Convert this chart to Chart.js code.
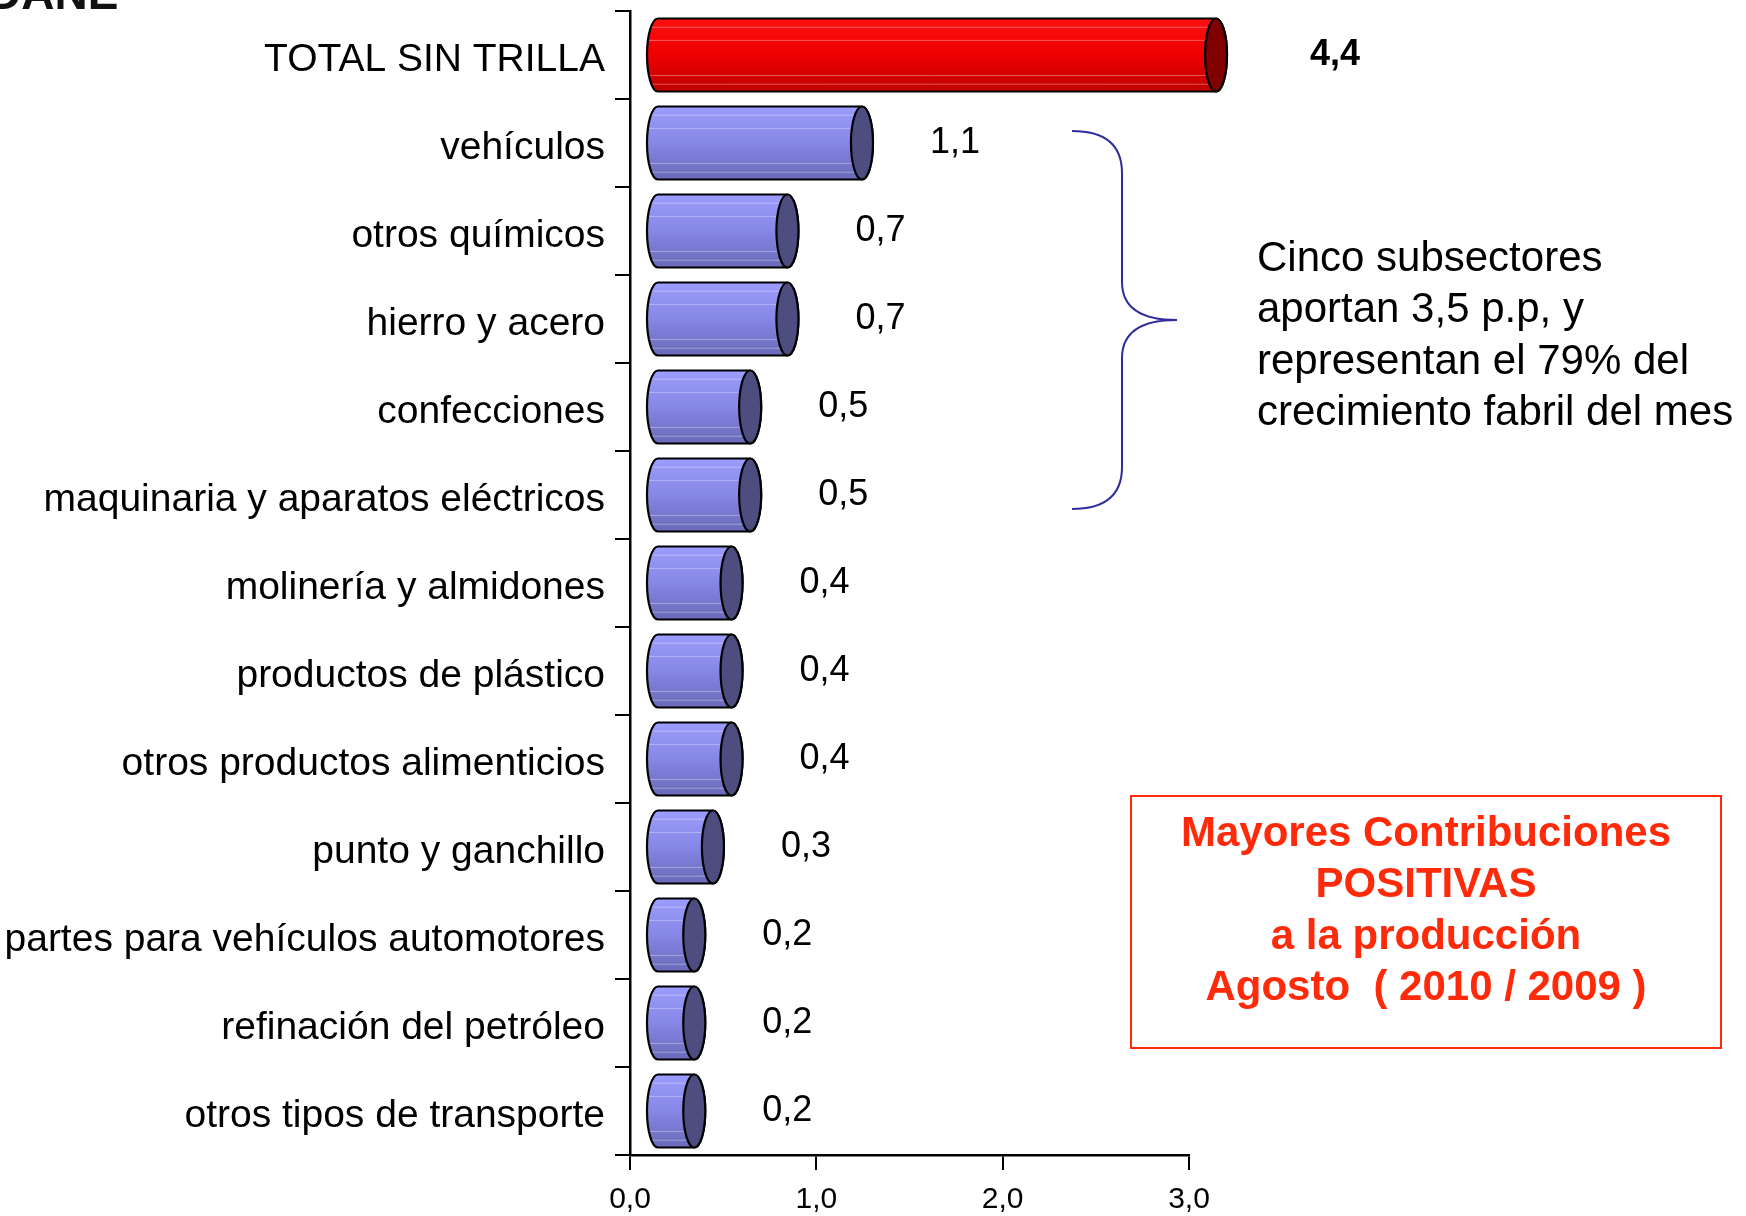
<!DOCTYPE html>
<html>
<head>
<meta charset="utf-8">
<script src="https://cdn.jsdelivr.net/npm/chart.js@4"></script>
<style>
  body { margin: 0; background: #fff; }
  #grafico { display: block; }
</style>
</head>
<body>
<canvas id="grafico" width="1746" height="1216"></canvas>
<script>
const categorias = [
  'TOTAL SIN TRILLA',
  'vehículos',
  'otros químicos',
  'hierro y acero',
  'confecciones',
  'maquinaria y aparatos eléctricos',
  'molinería y almidones',
  'productos de plástico',
  'otros productos alimenticios',
  'punto y ganchillo',
  'partes para vehículos automotores',
  'refinación del petróleo',
  'otros tipos de transporte'
];
const valores = [4.4, 1.1, 0.7, 0.7, 0.5, 0.5, 0.4, 0.4, 0.4, 0.3, 0.2, 0.2, 0.2];
const ticksX = [0, 1, 2, 3];
const notaLlave = ['Cinco subsectores', 'aportan 3,5 p.p, y', 'representan el 79% del', 'crecimiento fabril del mes'];
const tituloCaja = ['Mayores Contribuciones', 'POSITIVAS', 'a la producción', 'Agosto  ( 2010 / 2009 )'];

const fuente = '"Liberation Sans", Arial, sans-serif';
const coma = v => v.toFixed(1).replace('.', ',');

// cilindros 3D dibujados sobre las barras (que quedan transparentes)
const cilindros = {
  id: 'cilindros',
  afterDatasetsDraw(chart) {
    const ctx = chart.ctx;
    const xs = chart.scales.x;
    const tope = xs.getPixelForValue(xs.max);
    const prof = 27, rx = 11;
    chart.getDatasetMeta(0).data.forEach((bar, i) => {
      const h = bar.height;
      const cy = bar.y, ry = h / 2;
      const top = cy - ry, bot = cy + ry;
      const xa = bar.base + prof;
      const xb = Math.min(bar.x, tope) + prof;
      const rojo = i === 0;

      const g = ctx.createLinearGradient(0, top, 0, bot);
      if (rojo) {
        g.addColorStop(0, '#ff1010');
        g.addColorStop(0.5, '#ee0000');
        g.addColorStop(1, '#c00000');
      } else {
        g.addColorStop(0, '#9d9dff');
        g.addColorStop(0.5, '#8686e6');
        g.addColorStop(1, '#6a6ab8');
      }

      const cuerpo = new Path2D();
      cuerpo.moveTo(xb, top);
      cuerpo.lineTo(xa, top);
      cuerpo.ellipse(xa, cy, rx, ry, 0, -Math.PI / 2, Math.PI / 2, true);
      cuerpo.lineTo(xb, bot);
      cuerpo.ellipse(xb, cy, rx, ry, 0, Math.PI / 2, -Math.PI / 2, true);
      cuerpo.closePath();

      ctx.save();
      ctx.fillStyle = g;
      ctx.fill(cuerpo);

      // rayitas claras del relleno
      ctx.save();
      ctx.clip(cuerpo);
      ctx.strokeStyle = 'rgba(255,255,255,0.35)';
      ctx.lineWidth = 1;
      [0.12, 0.3, 0.78, 0.9].forEach(f => {
        ctx.beginPath();
        ctx.moveTo(xa - rx, top + h * f);
        ctx.lineTo(xb, top + h * f);
        ctx.stroke();
      });
      ctx.restore();

      ctx.strokeStyle = '#000';
      ctx.lineWidth = 2.2;
      ctx.stroke(cuerpo);

      // tapa frontal
      ctx.beginPath();
      ctx.ellipse(xb, cy, rx, ry, 0, 0, Math.PI * 2);
      ctx.fillStyle = rojo ? '#800000' : '#4d4d80';
      ctx.fill();
      ctx.stroke();

      // etiqueta de valor
      ctx.fillStyle = '#000';
      ctx.textAlign = 'center';
      ctx.textBaseline = 'middle';
      ctx.font = (rojo ? 'bold ' : '') + '36px ' + fuente;
      ctx.fillText(coma(valores[i]), xb + rx + (rojo ? 108 : 82), cy);
      ctx.restore();
    });
  }
};

// llave, texto y recuadro
const anotaciones = {
  id: 'anotaciones',
  afterDraw(chart) {
    const ctx = chart.ctx;
    const ys = chart.scales.y;
    const yT = ys.getPixelForValue(1) - 12;
    const yB = ys.getPixelForValue(5) + 14;
    const yM = (yT + yB) / 2;
    const x0 = 1072, x1 = 1122, x2 = 1177;
    ctx.save();
    ctx.strokeStyle = '#2e2e9a';
    ctx.lineWidth = 2;
    ctx.beginPath();
    ctx.moveTo(x0, yT);
    ctx.quadraticCurveTo(x1, yT, x1, yT + 42);
    ctx.lineTo(x1, yM - 38);
    ctx.quadraticCurveTo(x1, yM, x2, yM);
    ctx.quadraticCurveTo(x1, yM, x1, yM + 38);
    ctx.lineTo(x1, yB - 42);
    ctx.quadraticCurveTo(x1, yB, x0, yB);
    ctx.stroke();

    ctx.fillStyle = '#000';
    ctx.font = '42px ' + fuente;
    ctx.textAlign = 'left';
    ctx.textBaseline = 'middle';
    notaLlave.forEach((t, k) => ctx.fillText(t, 1257, 259 + k * 51.5));

    ctx.strokeStyle = '#ff2a0a';
    ctx.lineWidth = 2;
    ctx.strokeRect(1131, 796, 590, 252);
    ctx.fillStyle = '#ff2a0a';
    ctx.font = 'bold 42px ' + fuente;
    ctx.textAlign = 'center';
    tituloCaja.forEach((t, k) => ctx.fillText(t, 1426, 834 + k * 51.5));

    // logo recortado arriba a la izquierda
    ctx.fillStyle = '#111';
    ctx.font = 'bold 46px ' + fuente;
    ctx.textAlign = 'left';
    ctx.textBaseline = 'alphabetic';
    ctx.fillText('DANE', -12, 9);
    ctx.restore();
  }
};

new Chart(document.getElementById('grafico'), {
  type: 'bar',
  data: {
    labels: categorias,
    datasets: [{
      data: valores,
      backgroundColor: 'rgba(0,0,0,0)',
      borderWidth: 0,
      barPercentage: 0.83,
      categoryPercentage: 1
    }]
  },
  options: {
    indexAxis: 'y',
    responsive: false,
    animation: false,
    layout: { padding: { top: 11, right: 557, left: 0, bottom: 0 } },
    plugins: {
      legend: { display: false },
      tooltip: { enabled: false }
    },
    scales: {
      x: {
        min: 0,
        max: 3,
        afterFit: s => { s.height = 61; s.paddingLeft = 0; s.paddingRight = 0; },
        afterBuildTicks: s => { s.ticks = ticksX.map(v => ({ value: v })); },
        ticks: {
          color: '#000',
          font: { family: fuente, size: 30 },
          padding: 12,
          maxRotation: 0,
          callback: v => coma(v)
        },
        grid: { drawOnChartArea: false, color: '#000', lineWidth: 2, tickLength: 15 },
        border: { color: '#000', width: 2.5 }
      },
      y: {
        afterFit: s => { s.width = 630; s.paddingTop = 0; s.paddingBottom = 0; },
        ticks: {
          color: '#000',
          autoSkip: false,
          font: { family: fuente, size: 39 },
          padding: 10,
          labelOffset: 5
        },
        grid: { drawOnChartArea: false, offset: true, color: '#000', lineWidth: 2, tickLength: 15 },
        border: { color: '#000', width: 2.5 }
      }
    }
  },
  plugins: [cilindros, anotaciones]
});
</script>
</body>
</html>
